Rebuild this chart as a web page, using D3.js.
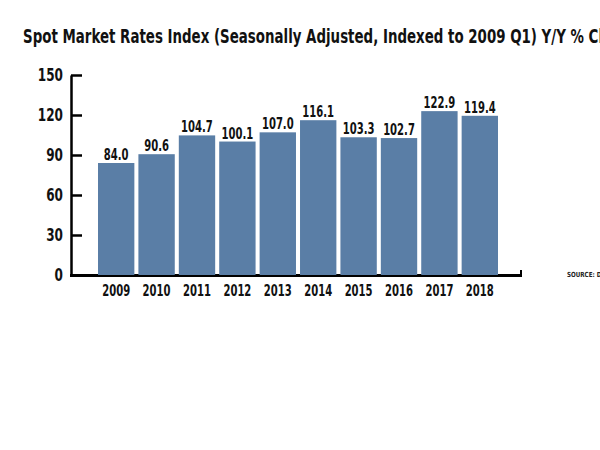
<!DOCTYPE html>
<html>
<head>
<meta charset="utf-8">
<script src="https://cdn.jsdelivr.net/npm/d3@7"></script>
<style>
  body { margin: 0; background: #fff; }
  svg text { font-family: "DejaVu Sans", sans-serif; font-weight: bold; }
</style>
</head>
<body>
<div id="chart"></div>
<script>
// data
const years = ["2009", "2010", "2011", "2012", "2013", "2014", "2015", "2016", "2017", "2018"]
const values = [84.0, 90.6, 104.7, 100.1, 107.0, 116.1, 103.3, 102.7, 122.9, 119.4]
const yTicks = [0, 30, 60, 90, 120, 150]

const title = "Spot Market Rates Index (Seasonally Adjusted, Indexed to 2009 Q1) Y/Y % Change"
const source = "SOURCE: DAT"

const width = 600, height = 450
const barColor = "#5a7ea6"
const squeeze = 0.67   // no condensed font installed, so squeeze horizontally

const svg = d3.select("#chart").append("svg")
    .attr("width", width)
    .attr("height", height)

const x = d3.scaleBand()
    .domain(years)
    .range([98, 498])
    .paddingInner(0.1)
    .paddingOuter(0)

const y = d3.scaleLinear()
    .domain([0, 150])
    .range([275, 75])

function place(sel, fx, fy, k) {
    sel.attr("x", 0).attr("y", 0)
        .attr("transform", (d, i) => "translate(" + fx(d, i) + "," + fy(d, i) + ") scale(" + (k || squeeze) + ",1)")
}

// title
svg.append("text")
    .attr("font-size", 19)
    .attr("fill", "#111")
    .text(title)
    .call(place, () => 23, () => 43, 0.705)

// baseline (drawn under the bars)
svg.append("line")
    .attr("x1", 70).attr("x2", 522)
    .attr("y1", 275.5).attr("y2", 275.5)
    .attr("stroke", "#000")
    .attr("stroke-width", 3)
svg.append("line")
    .attr("x1", 521).attr("x2", 521)
    .attr("y1", 270).attr("y2", 277)
    .attr("stroke", "#000")
    .attr("stroke-width", 2)

// bars
svg.append("g").selectAll("rect")
    .data(values)
    .join("rect")
    .attr("x", (d, i) => x(years[i]))
    .attr("width", x.bandwidth())
    .attr("y", d => y(d))
    .attr("height", d => y(0) - y(d))
    .attr("fill", barColor)

// value labels
svg.append("g").selectAll("text")
    .data(values)
    .join("text")
    .attr("text-anchor", "middle")
    .attr("font-size", 15)
    .attr("fill", "#111")
    .text(d => d.toFixed(1))
    .call(place, (d, i) => x(years[i]) + x.bandwidth() / 2, d => y(d) - 3)

// y axis
const yAxis = d3.axisLeft(y)
    .tickValues(yTicks)
    .tickSizeInner(-11)
    .tickSizeOuter(0)
    .tickPadding(8)

const gy = svg.append("g")
    .attr("transform", "translate(71,0)")
    .call(yAxis)
gy.select(".domain").attr("stroke", "#000").attr("stroke-width", 2.5)
gy.selectAll(".tick line").attr("stroke", "#000").attr("stroke-width", 2.5)
gy.selectAll(".tick text")
    .attr("font-size", 18)
    .attr("fill", "#111")
    .attr("font-family", null)
    .attr("x", -8 / squeeze)
    .attr("transform", "scale(" + squeeze + ",1)")

// x labels
svg.append("g").selectAll("text")
    .data(years)
    .join("text")
    .attr("text-anchor", "middle")
    .attr("font-size", 15)
    .attr("fill", "#111")
    .text(d => d)
    .call(place, d => x(d) + x.bandwidth() / 2, () => 296)

// source note
svg.append("text")
    .attr("font-size", 7)
    .attr("font-weight", "normal")
    .attr("fill", "#222")
    .text(source)
    .call(place, () => 567, () => 277, 0.8)
</script>
</body>
</html>
